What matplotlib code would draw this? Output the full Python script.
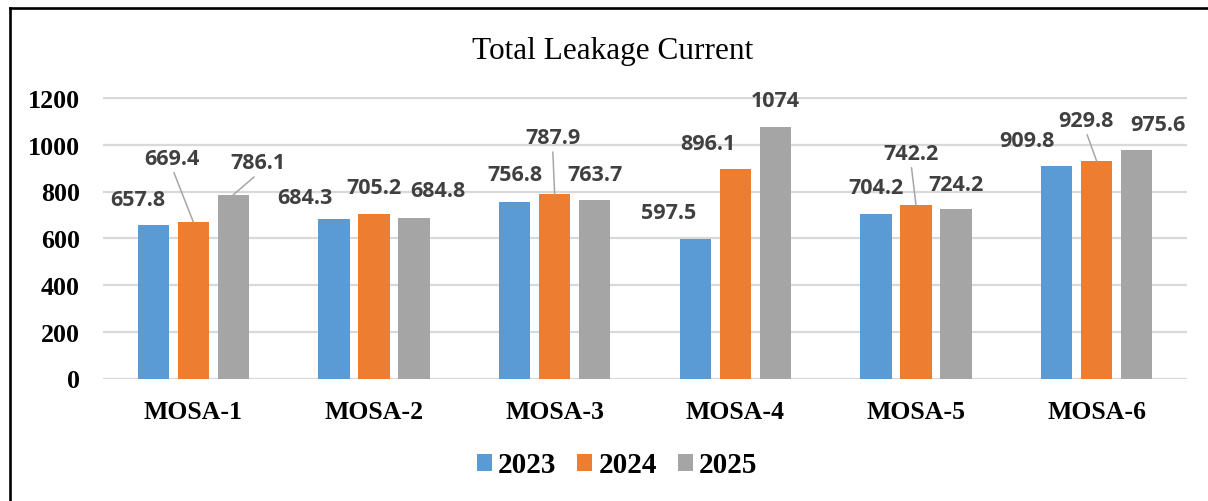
import matplotlib
matplotlib.use("Agg")
import matplotlib.pyplot as plt
from matplotlib.lines import Line2D
from matplotlib.patches import Patch
import numpy as np

# ── Data ─────────────────────────────────────────
categories = ["MOSA-1", "MOSA-2", "MOSA-3", "MOSA-4", "MOSA-5", "MOSA-6"]
years = ["2023", "2024", "2025"]
vals_2023 = [657.8, 684.3, 756.8, 597.5, 704.2, 909.8]
vals_2024 = [669.4, 705.2, 787.9, 896.1, 742.2, 929.8]
vals_2025 = [786.1, 684.8, 763.7, 1074, 724.2, 975.6]
label_text = [
    ["657.8", "684.3", "756.8", "597.5", "704.2", "909.8"],
    ["669.4", "705.2", "787.9", "896.1", "742.2", "929.8"],
    ["786.1", "684.8", "763.7", "1074", "724.2", "975.6"],
]
yticks = [0, 200, 400, 600, 800, 1000, 1200]

colors = ["#5B9BD5", "#ED7D31", "#A5A5A5"]

# label offsets from bar top (pixels, x right / y up), as moved in the original
label_offsets = [
    [(-16, 24), (-29, 20), (0, 26), (-27, 25), (0, 25), (-30, 24)],
    [(-21, 63), (0, 25), (-2, 56), (-27, 25), (-5, 51), (-11, 40)],
    [(25, 31), (24, 27), (0, 24), (0, 26), (0, 24), (21, 25)],
]
leaders = [
    [False] * 6,
    [True, False, True, False, True, True],
    [True, False, False, False, False, False],
]

W, H = 1208, 502
fig = plt.figure(figsize=(W / 100, H / 100), dpi=100)

# axes placed so 0 -> y=379.5px, 1200 -> y=99px, x from 103 to 1187px
y0_px, y1200_px = 379.5, 99.0
ppu = (y0_px - y1200_px) / 1200
ylo, yhi = -4, 1204
bot_px = y0_px + (0 - ylo) * ppu
top_px = y1200_px - (yhi - 1200) * ppu
ax = fig.add_axes([103 / W, (H - bot_px) / H, (1187 - 103) / W, (bot_px - top_px) / H])

series = [vals_2023, vals_2024, vals_2025]
x = np.arange(len(categories))
offs = [-0.2214, 0.0, 0.2214]
bw = 0.172

for i, vals in enumerate(series):
    ax.bar(x + offs[i], vals, width=bw, color=colors[i], zorder=3)
    for j, v in enumerate(vals):
        dx, dy = label_offsets[i][j]
        arrow = None
        if leaders[i][j]:
            arrow = dict(arrowstyle="-", color="#A6A6A6", lw=1.1,
                         relpos=(0.5, 0.0), shrinkA=1, shrinkB=0)
        ax.annotate(label_text[i][j], xy=(x[j] + offs[i], v),
                    xytext=(dx, dy + 1), textcoords="offset pixels",
                    ha="center", va="center", fontsize=15.5,
                    fontfamily="Open Sans", fontweight="bold",
                    color="#404040", arrowprops=arrow, zorder=5)

ax.set_xlim(-0.5, len(categories) - 0.5)
ax.set_ylim(ylo, yhi)
ax.set_yticks(yticks)
ax.set_xticks(x)
ax.set_xticklabels(categories)
for s in ax.spines.values():
    s.set_visible(False)
ax.grid(axis="y", color="#D9D9D9", lw=1.6, zorder=0)
ax.tick_params(length=0)
ax.tick_params(axis="y", pad=16.5)
ax.tick_params(axis="x", pad=15)
for lab in ax.get_yticklabels():
    lab.set_fontfamily("Liberation Serif")
    lab.set_fontweight("bold")
    lab.set_fontsize(18.7)
for lab in ax.get_xticklabels():
    lab.set_fontfamily("Liberation Serif")
    lab.set_fontweight("bold")
    lab.set_fontsize(18.5)

fig.text(613 / W, 1 - 52 / H, "Total Leakage Current", ha="center", va="center",
         fontsize=22.5, fontfamily="Liberation Serif")

handles = [Patch(facecolor=c, edgecolor="none") for c in colors]
fig.legend(handles, years, loc="center", bbox_to_anchor=(617 / W, 1 - 466 / H),
           ncol=3, frameon=False, handlelength=0.52, handleheight=0.52,
           handletextpad=0.2, columnspacing=0.72,
           prop=dict(family="Liberation Serif", weight="bold", size=21))

# outer frame (left and top edges only)
fig.add_artist(Line2D([9.5 / W, 9.5 / W], [0, 1 - 8.5 / H], color="black",
                      lw=1.9, transform=fig.transFigure))
fig.add_artist(Line2D([9.5 / W, 1], [1 - 8.5 / H, 1 - 8.5 / H], color="black",
                      lw=1.9, transform=fig.transFigure))

fig.savefig("out.png", dpi=100)
